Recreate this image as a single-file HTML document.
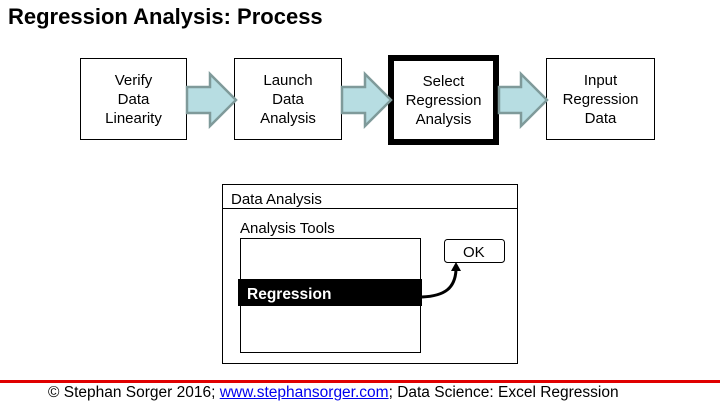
<!DOCTYPE html>
<html><head><meta charset="utf-8"><style>
body{margin:0;width:720px;height:405px;background:#fff;position:relative;overflow:hidden;font-family:"Liberation Sans",Arial,sans-serif}
.t{position:absolute;left:8px;top:4px;font-size:22px;font-weight:bold;color:#000}
.b{position:absolute;top:58px;height:82px;border:1px solid #000;box-sizing:border-box;display:flex;align-items:center;justify-content:center;text-align:center;font-size:15px;line-height:19px;color:#000}
.f{position:absolute;left:48px;top:384px;font-size:15.5px;color:#000}
.f a{color:#0000ee;text-decoration:underline}
</style></head><body>
<div class="t">Regression Analysis: Process</div>
<div class="b" style="left:80px;width:107px">Verify<br>Data<br>Linearity</div>
<div class="b" style="left:234px;width:108px">Launch<br>Data<br>Analysis</div>
<div class="b" style="left:388px;top:55px;height:90px;width:111px;border:6px solid #000">Select<br>Regression<br>Analysis</div>
<div class="b" style="left:546px;width:109px">Input<br>Regression<br>Data</div>
<svg width="720" height="405" style="position:absolute;left:0;top:0">
<g fill="#b7dde2" stroke="#7f9a9a" stroke-width="2.5">
<polygon points="187,87 210,87 210,74 236,100 210,126 210,113 187,113"/>
<polygon points="342,87 365,87 365,74 391,100 365,126 365,113 342,113"/>
<polygon points="499,87 521,87 521,74 547,100 521,126 521,113 499,113"/>
</g>
<rect x="222.5" y="184.5" width="295" height="179" fill="none" stroke="#000"/>
<line x1="222" y1="208.5" x2="517" y2="208.5" stroke="#000"/>
<text x="231" y="204" font-size="15" font-family="Liberation Sans,sans-serif">Data Analysis</text>
<text x="240" y="233" font-size="15" font-family="Liberation Sans,sans-serif">Analysis Tools</text>
<rect x="240.5" y="238.5" width="180" height="114" fill="none" stroke="#000"/>
<rect x="238" y="279" width="184" height="27" fill="#000"/>
<text x="247" y="299" font-size="15.5" font-weight="bold" fill="#fff" font-family="Liberation Sans,sans-serif">Regression</text>
<rect x="444.5" y="239.5" width="60" height="23" rx="3" fill="#fff" stroke="#000"/>
<text x="463" y="257" font-size="15" font-family="Liberation Sans,sans-serif">OK</text>
<path d="M422,297 C445,296 455,288 456,270" fill="none" stroke="#000" stroke-width="3"/>
<polygon points="451,271 461,271 456,262" fill="#000"/>
<rect x="0" y="380" width="720" height="3" fill="#e00000"/>
</svg>
<div class="f">© Stephan Sorger 2016; <a>www.stephansorger.com</a>; Data Science: Excel Regression</div>
</body></html>
